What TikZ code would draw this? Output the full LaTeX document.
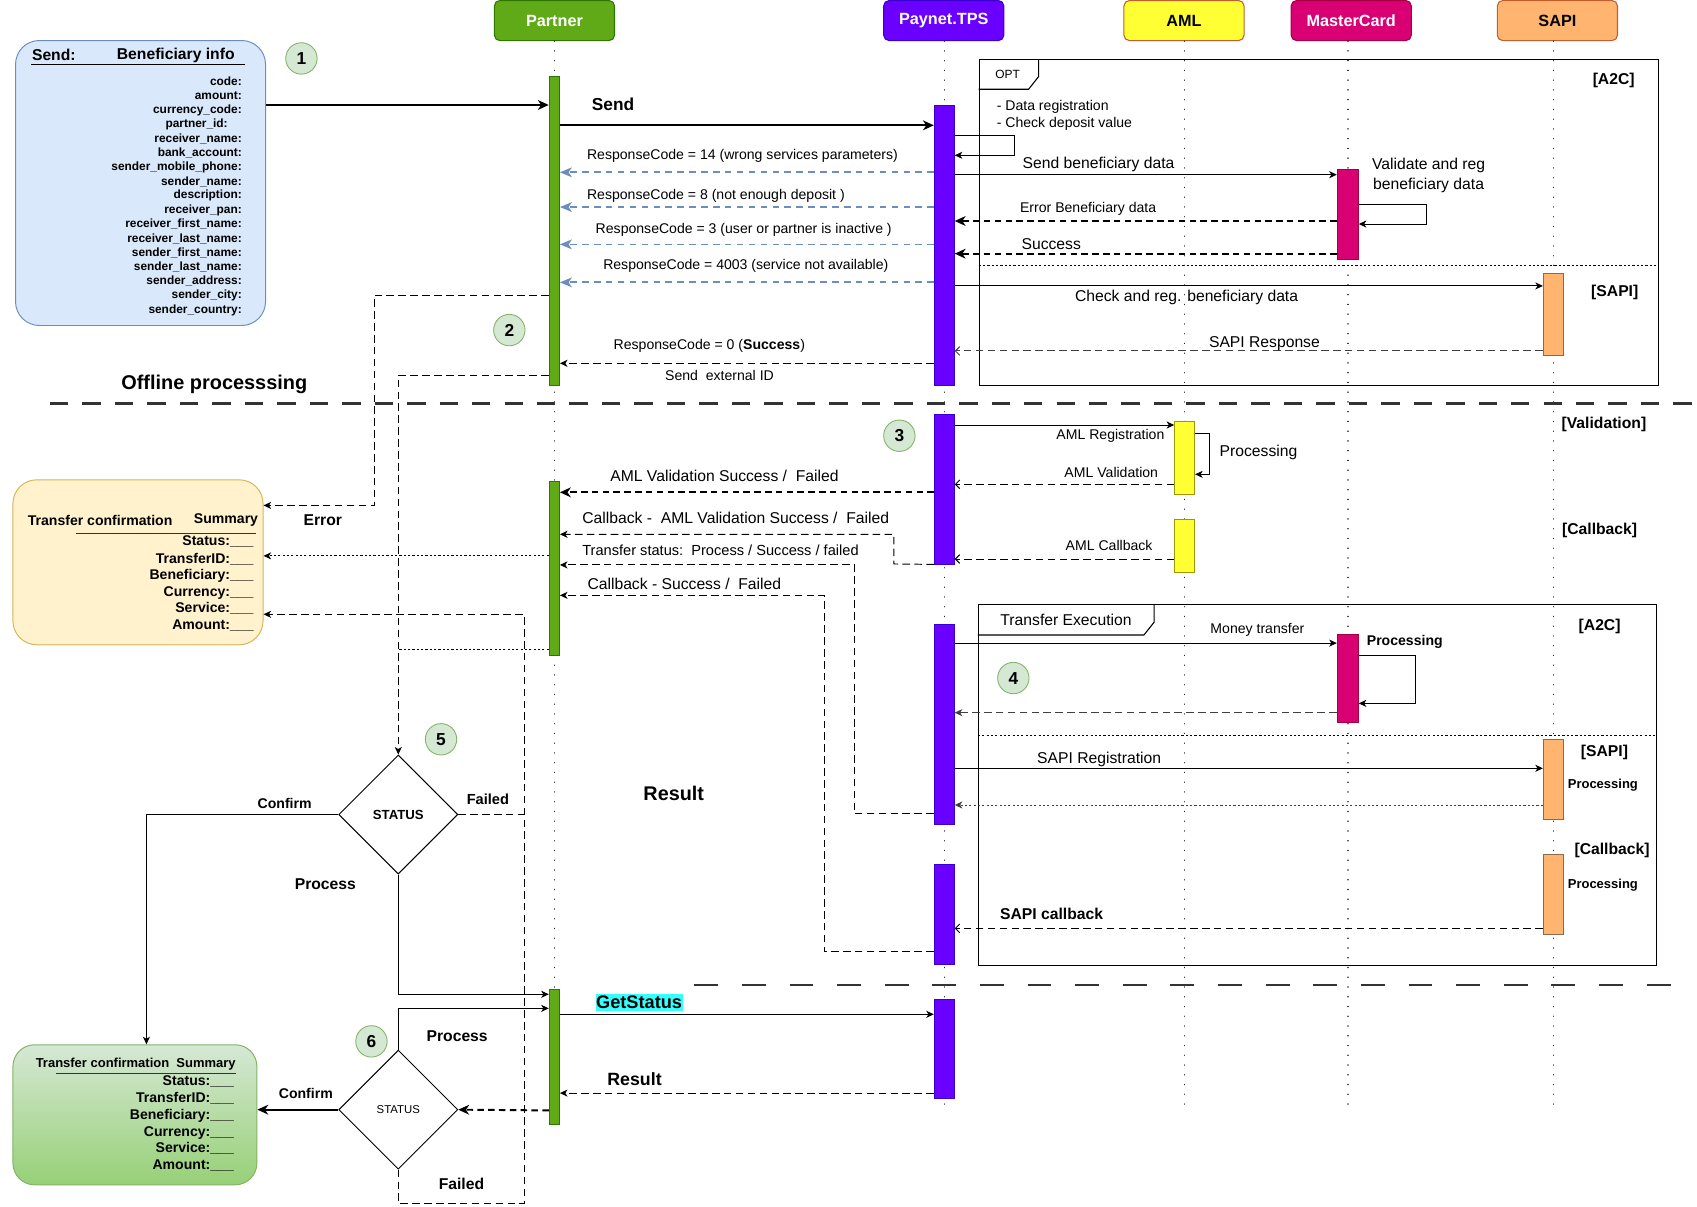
\documentclass[tikz,border=0pt]{standalone}
\usepackage{fontspec}
\setmainfont{Liberation Sans}
\usetikzlibrary{arrows.meta,shapes.geometric}
\definecolor{pgreen}{HTML}{60A917}
\definecolor{pgreenD}{HTML}{2D7600}
\definecolor{ppurp}{HTML}{6A00FF}
\definecolor{ppurpD}{HTML}{3700CC}
\definecolor{amly}{HTML}{FFFF33}
\definecolor{amlyD}{HTML}{9A9A00}
\definecolor{hdrD}{HTML}{C0602E}
\definecolor{mcr}{HTML}{D80073}
\definecolor{mcrD}{HTML}{A50040}
\definecolor{sapo}{HTML}{FFB570}
\definecolor{sapoD}{HTML}{8A6A4A}
\definecolor{bluef}{HTML}{DAE8FC}
\definecolor{blued}{HTML}{6C8EBF}
\definecolor{yelf}{HTML}{FFF2CC}
\definecolor{yeld}{HTML}{D6B656}
\definecolor{grnf}{HTML}{D5E8D4}
\definecolor{grnd}{HTML}{82B366}
\definecolor{grnb}{HTML}{97D077}
\definecolor{cyanh}{HTML}{33FFFF}
\definecolor{sepc}{HTML}{333333}
\newcommand\mybar[5]{\node[#2, minimum height={(#5)-(#4)}] (#1) at (#3,{((#4)+(#5))/2}) {};}
\tikzset{
  fs/.style={font=\fontsize{#1}{#1}\selectfont},
  fb/.style={font=\fontsize{#1}{#1}\selectfont\bfseries},
  lab/.style={inner sep=0pt, outer sep=0pt},
  hdr/.style={draw, rounded corners=5pt, minimum width=111pt, minimum height=37pt, inner sep=0pt, line width=1pt, font=\fontsize{15}{15}\selectfont\bfseries},
  barP/.style={draw=pgreenD, fill=pgreen, minimum width=9.5pt, inner sep=0pt, line width=0.8pt},
  barN/.style={draw=ppurpD, fill=ppurp, minimum width=18.5pt, inner sep=0pt, line width=0.8pt},
  barA/.style={draw=amlyD, fill=amly, minimum width=18.5pt, inner sep=0pt, line width=0.8pt},
  barM/.style={draw=mcrD, fill=mcr, minimum width=19.5pt, inner sep=0pt, line width=0.8pt},
  barS/.style={draw=sapoD, fill=sapo, minimum width=19pt, inner sep=0pt, line width=0.8pt},
  life/.style={line width=1.4pt, dash pattern=on 0.01pt off 9pt, line cap=round, black!85},
  numc/.style={circle, draw=grnd, fill=grnf, minimum size=29pt, inner sep=0pt, line width=0.8pt, font=\fontsize{16}{16}\selectfont\bfseries},
  atip/.style={-{Stealth[length=7pt,width=6.5pt,inset=2pt]}},
  abig/.style={-{Stealth[length=10pt,width=9pt,inset=3pt]}},
  aopen/.style={-{Straight Barb[length=4pt,width=8pt]}},
  msg/.style={line width=0.9pt, atip},
  hmsg/.style={line width=1.8pt, abig},
  dret/.style={line width=0.9pt, dash pattern=on 7pt off 4pt, atip},
  bret/.style={line width=1.8pt, dash pattern=on 6pt off 4pt, abig},
  blret/.style={line width=1.6pt, draw=blued, dash pattern=on 6pt off 5pt, -{Stealth[length=11pt,width=9pt,inset=3pt]}},
  oret/.style={line width=0.9pt, dash pattern=on 7pt off 4pt, aopen},
  dotret/.style={line width=0.9pt, dash pattern=on 2pt off 2pt, atip},
  dotln/.style={line width=0.9pt, dash pattern=on 2pt off 2pt},
  dashln/.style={line width=0.9pt, dash pattern=on 7pt off 4pt},
  sepline/.style={line width=2.2pt, draw=sepc},
  dstat/.style={diamond, draw, minimum width=110pt, minimum height=110pt, inner sep=0pt, line width=0.9pt, aspect=1},
}
\begin{document}
\begin{tikzpicture}[x=1pt,y=-1pt]
\useasboundingbox (0,0) rectangle (1568,1115);
% headers
\node[hdr, fill=pgreen, draw=pgreenD, text=white] (hP) at (512.3,19) {Partner};
\node[hdr, fill=ppurp, draw=ppurpD, text=white] (hN) at (872,19) {Paynet.TPS};
\node[hdr, fill=amly, draw=hdrD] (hA) at (1094,19) {AML};
\node[hdr, fill=mcr, draw=mcrD, text=white] (hM) at (1248.5,19) {MasterCard};
\node[hdr, fill=sapo, draw=hdrD] (hS) at (1439,19) {SAPI};
% lifelines
\draw[life] (hP.south) -- ++(0,1008);
\draw[life] ([xshift=0.5pt]hN.south) -- ++(0,983.5);
\draw[life] ([xshift=0.6pt]hA.south) -- ++(0,983.5);
\draw[life] ([xshift=-3.2pt]hM.south) -- ++(0,983.5);
\draw[life] ([xshift=-3.5pt]hS.south) -- ++(0,983.5);
% frames
\node[draw, anchor=north west, minimum width=627.5pt, minimum height=300.9pt, inner sep=0pt, line width=1pt] (opt) at (904.3,54.8) {};
\draw[line width=1pt] (959.6,54.8) -- (959.6,70.8) -- (950.4,82.5) -- (opt.west |- 0,82.5);
\node[lab, fs=11] (optl) at (931,68.4) {OPT};
\draw[dotln] (opt.west |- 0,245.5) -- (opt.east |- 0,245.5);
\node[draw, anchor=north west, minimum width=626.2pt, minimum height=333.6pt, inner sep=0pt, line width=1pt] (te) at (903.6,558.4) {};
\draw[line width=1pt] (1066.3,558.4) -- (1066.3,575) -- (1057,586.7) -- (te.west |- 0,586.7);
\draw[dotln] (te.west |- 0,679.3) -- (te.east |- 0,679.3);
% separators
\draw[sepline, dash pattern=on 17pt off 13pt] (46.2,373) -- (1566,373);
\draw[sepline, dash pattern=on 22pt off 22pt] (641.5,910.3) -- (1551,910.3);
% boxes
\node[draw=blued, fill=bluef, rounded corners=22pt, anchor=north west, minimum width=231pt, minimum height=263.3pt, inner sep=0pt, line width=0.9pt] (sendbox) at (13.9,37) {};
\node[draw=yeld, fill=yelf, rounded corners=22pt, anchor=north west, minimum width=231.1pt, minimum height=152.4pt, inner sep=0pt, line width=0.9pt] (ysum) at (11.5,442.9) {};
\node[draw=grnd, top color=grnf, bottom color=grnb, rounded corners=20pt, anchor=north west, minimum width=225.4pt, minimum height=129.4pt, inner sep=0pt, line width=0.9pt] (gsum) at (11.5,964.9) {};
% send box text
\node[lab, fb=14.5, anchor=west] (st1) at (29.6,50.8) {Send:};
\node[lab, fb=14.5, anchor=west] (st2) at (108,50.8) {Beneficiary info};
\draw[line width=1pt] (29,60) -- (226,60);
\foreach \t [count=\i from 0] in {code:,amount:,currency\_code:,partner\_id:\hspace*{13pt},receiver\_name:,bank\_account:,sender\_mobile\_phone:,sender\_name:,description:,receiver\_pan:,receiver\_first\_name:,receiver\_last\_name:,sender\_first\_name:,sender\_last\_name:,sender\_address:,sender\_city:,sender\_country:}
  \node[lab, fb=11, anchor=east] (sf\i) at (223.4,{75.5+13.18*\i}) {\t};
% yellow summary text
\node[lab, fb=13, anchor=west] (yt1) at (25.7,480.5) {Transfer confirmation};
\node[lab, fb=13, anchor=west] (yt2) at (179.2,480.5) {Summary};
\draw[line width=1pt, sepc] (70.3,492.8) -- (236.3,492.8);
\foreach \t/\yy [count=\i] in {Status:/500.5,TransferID:/516.5,Beneficiary:/532.2,Currency:/547.6,Service:/562.1,Amount:/578.1}
  \node[lab, fb=13, anchor=east] (yf\i) at (234.3,\yy) {\t\_\_\_};
% green summary text
\node[lab, fb=12] (gt1) at (125.4,983.4) {Transfer confirmation\ \ Summary};
\draw[line width=1pt, sepc] (52.1,992) -- (218.5,992);
\foreach \t/\yy [count=\i] in {Status:/999.4,TransferID:/1015.1,Beneficiary:/1030.8,Currency:/1046.8,Service:/1061.3,Amount:/1077}
  \node[lab, fb=13, anchor=east] (gf\i) at (216.1,\yy) {\t\_\_\_};
% diamonds
\node[dstat, fb=12.2] (s5) at (368,752.6) {STATUS};
\node[dstat, fs=10.5] (s6) at (368,1025.3) {STATUS};
% activation bars
\mybar{pb1}{barP}{512.2}{70.2}{355.7}
\mybar{pb2}{barP}{512.2}{445}{605.2}
\mybar{pb3}{barP}{512.2}{914.3}{1039}
\mybar{nb1}{barN}{872.5}{97.3}{355.7}
\mybar{nb2}{barN}{872.5}{382.8}{521.1}
\mybar{nb3}{barN}{872.5}{576.7}{761.8}
\mybar{nb4}{barN}{872.5}{798.6}{891.5}
\mybar{nb5}{barN}{872.5}{923}{1015.3}
\mybar{ab1}{barA}{1094.6}{389.6}{456.7}
\mybar{ab2}{barA}{1094.6}{479.9}{528.5}
\mybar{mb1}{barM}{1245.3}{156.4}{239.6}
\mybar{mb2}{barM}{1245.3}{586}{667.1}
\mybar{sb1}{barS}{1435.5}{252.5}{328.3}
\mybar{sb2}{barS}{1435.5}{683.1}{756.7}
\mybar{sb3}{barS}{1435.5}{789.4}{863.3}
% number circles
\node[numc] (c1) at (278.5,54) {1};
\node[numc] (c2) at (470.6,305) {2};
\node[numc] (c3) at (831,402.6) {3};
\node[numc] (c4) at (936.3,626.5) {4};
\node[numc] (c5) at (407.5,683.1) {5};
\node[numc] (c6) at (343.2,962.2) {6};
% top section messages
\draw[hmsg] (sendbox.east |- 0,97) -- (pb1.west |- 0,97);
\node[lab, fb=16] (lsend) at (566.5,96) {Send};
\draw[hmsg] (pb1.east |- 0,115.8) -- (nb1.west |- 0,115.8);
\draw[msg] (nb1.east |- 0,125) -- (937.5,125) -- (937.5,143.5) -- (nb1.east |- 0,143.5);
\node[lab, fs=13, anchor=west] (ld1) at (921,98.9) {- Data registration};
\node[lab, fs=13, anchor=west] (ld2) at (921,114.6) {- Check deposit value};
\foreach \yy in {159.2,191.3,225.8,260.9}
  \draw[blret] (nb1.west |- 0,\yy) -- (pb1.east |- 0,\yy);
\node[lab, fs=13] (r14) at (686,144.1) {ResponseCode = 14 (wrong services parameters)};
\node[lab, fs=13] (r8) at (661.5,181.1) {ResponseCode = 8 (not enough deposit )};
\node[lab, fs=13] (r3) at (687.2,212.5) {ResponseCode = 3 (user or partner is inactive )};
\node[lab, fs=13] (r4003) at (689.1,245.5) {ResponseCode = 4003 (service not available)};
\draw[dret] (nb1.west |- 0,335.7) -- (pb1.east |- 0,335.7);
\node[lab, fs=13] (r0) at (655.4,319.4) {ResponseCode = 0 (\textbf{Success})};
\node[lab, fs=13] (rext) at (664.8,347.1) {Send\ \ external ID};
% OPT section
\node[lab, fb=14.5] (a2c1) at (1491,74.5) {[A2C]};
\node[lab, fb=14.5] (sapi1) at (1492,270) {[SAPI]};
\draw[msg] (nb1.east |- 0,161.4) -- (mb1.west |- 0,161.4);
\node[lab, fs=14.5] (lsbd) at (1015,151.8) {Send beneficiary data};
\node[lab, align=center, font=\fontsize{14.5}{18.2}\selectfont] (lval) at (1320,162.1) {Validate and reg\\beneficiary data};
\draw[msg] (mb1.east |- 0,188.5) -- (1318,188.5) -- (1318,207) -- (mb1.east |- 0,207);
\draw[bret] (mb1.west |- 0,204.2) -- (nb1.east |- 0,204.2);
\node[lab, fs=13] (lerr) at (1005.4,193) {Error Beneficiary data};
\draw[bret] (mb1.west |- 0,234.4) -- (nb1.east |- 0,234.4);
\node[lab, fs=14.5] (lsuc) at (971.3,225.7) {Success};
\draw[msg] (nb1.east |- 0,264.2) -- (sb1.west |- 0,264.2);
\node[lab, fs=14.5] (lchk) at (1096.4,274.4) {Check and reg. beneficiary data};
\draw[oret, black!75] (sb1.west |- 0,324.3) -- (nb1.east |- 0,324.3);
\node[lab, fs=14.5] (lsresp) at (1168.3,317.2) {SAPI Response};
% offline
\node[lab, fb=18.4] (loff) at (198,354.8) {Offline processsing};
\draw[dret] (pb1.west |- 0,272.7) -- (345.9,272.7) -- (345.9,467) -- (ysum.east |- 0,467);
\node[lab, fb=14.5] (lerror) at (298.3,480.8) {Error};
\draw[dret] (pb1.west |- 0,346.8) -- (368,346.8) -- (s5.north);
\draw[dotln] (pb2.west |- 0,599.7) -- (368,599.7);
\draw[dotret] (pb2.west |- 0,513.6) -- (ysum.east |- 0,513.6);
\draw[dret] (s6.south) -- (368,1111.8) -- (484.4,1111.8) -- (484.4,567.6) -- (ysum.east |- 0,567.6);
\draw[dashln] (s5.east) -- (484.4,752.6);
% validation section
\draw[msg] (nb2.east |- 0,392.7) -- (ab1.west |- 0,392.7);
\node[lab, fs=13] (lamlr) at (1026,402.8) {AML Registration};
\draw[msg] (ab1.east |- 0,400.4) -- (1117.5,400.4) -- (1117.5,438.3) -- (ab1.east |- 0,438.3);
\node[lab, fs=14.5] (lproc1) at (1162.8,418) {Processing};
\draw[oret] (ab1.west |- 0,447.5) -- (nb2.east |- 0,447.5);
\node[lab, fs=13] (lamlv) at (1026.8,436.7) {AML Validation};
\node[lab, fb=14.5] (lvalid) at (1482,392) {[Validation]};
\draw[oret] (ab2.west |- 0,516.5) -- (nb2.east |- 0,516.5);
\node[lab, fs=13] (lamlc) at (1024.8,504.2) {AML Callback};
\node[lab, fb=14.5] (lcb1) at (1478,490.3) {[Callback]};
\draw[bret] (nb2.west |- 0,454.9) -- (pb2.east |- 0,454.9);
\node[lab, fs=14.5] (lavs) at (669.4,439.8) {AML Validation Success /\ \ Failed};
\draw[dret] (nb2.south west) -- (826,521.1) -- (826,493.7) -- (pb2.east |- 0,493.7);
\node[lab, fs=14.5] (lcbaml) at (679.8,478.9) {Callback -\ \ AML Validation Success /\ \ Failed};
\draw[dret] (nb3.west |- 0,752.1) -- (789.4,752.1) -- (789.4,522) -- (pb2.east |- 0,522);
\node[lab, fs=13.5] (ltst) at (665.7,508.8) {Transfer status:\ \ Process / Success / failed};
\draw[dret] (nb4.west |- 0,879.5) -- (761.6,879.5) -- (761.6,550.1) -- (pb2.east |- 0,550.1);
\node[lab, fs=14.5] (lcbs) at (632.3,539.6) {Callback - Success /\ \ Failed};
% transfer execution section
\node[lab, fs=14.5] (lte) at (985,572.9) {Transfer Execution};
\node[lab, fb=14.5] (a2c2) at (1478,578.4) {[A2C]};
\draw[msg] (nb3.east |- 0,594.2) -- (mb2.west |- 0,594.2);
\node[lab, fs=13] (lmt) at (1161.8,582.1) {Money transfer};
\node[lab, fb=13] (lproc2) at (1298,593.5) {Processing};
\draw[msg] (mb2.east |- 0,605.5) -- (1307.5,605.5) -- (1307.5,649.9) -- (mb2.east |- 0,649.9);
\draw[dret, black!75] (mb2.west |- 0,658.5) -- (nb3.east |- 0,658.5);
\node[lab, fb=14.5] (sapi2) at (1482.5,695.1) {[SAPI]};
\draw[msg] (nb3.east |- 0,709.9) -- (sb2.west |- 0,709.9);
\node[lab, fs=14.5] (lsreg) at (1015.6,701.6) {SAPI Registration};
\node[lab, fb=12] (lproc3) at (1481,725.3) {Processing};
\draw[dotret, black!75] (sb2.west |- 0,743.8) -- (nb3.east |- 0,743.8);
\node[lab, fb=14.5] (lcb2) at (1489.5,786) {[Callback]};
\node[lab, fb=12] (lproc4) at (1481,817.7) {Processing};
\draw[oret] (sb3.west |- 0,857.8) -- (nb4.east |- 0,857.8);
\node[lab, fb=14.5] (lscb) at (971.7,844.2) {SAPI callback};
\node[lab, fb=18.3] (lres1) at (622.5,733.3) {Result};
% status flow
\draw[msg] (s5.west) -- (135.3,752.6) -- (gsum.north -| 135.3,0);
\node[lab, fb=13] (lconf1) at (263,742.6) {Confirm};
\node[lab, fb=13.5] (lfail1) at (450.8,738.9) {Failed};
\node[lab, fb=14.5] (lprc1) at (300.6,817) {Process};
\draw[msg] (s5.south) -- (368,918.7) -- (pb3.west |- 0,918.7);
\draw[msg] (s6.north) -- (368,931.7) -- (pb3.west |- 0,931.7);
\node[lab, fb=14.5] (lprc2) at (422.4,957.8) {Process};
\draw[bret] (pb3.west |- 0,1026) -- (s6.east);
\draw[hmsg] (s6.west) -- (gsum.east |- s6.west);
\node[lab, fb=13] (lconf2) at (282.6,1010.5) {Confirm};
\node[lab, fb=14.5] (lfail2) at (426.4,1094) {Failed};
% get status
\node[fb=16.8, fill=cyanh, inner xsep=0.5pt, inner ysep=2pt] (lgs) at (590.5,926.5) {GetStatus};
\draw[msg] (pb3.east |- 0,937.2) -- (nb5.west |- 0,937.2);
\draw[dret] (nb5.west |- 0,1010) -- (pb3.east |- 0,1010);
\node[lab, fb=16.4] (lres2) at (586.3,997.2) {Result};
\end{tikzpicture}
\end{document}
